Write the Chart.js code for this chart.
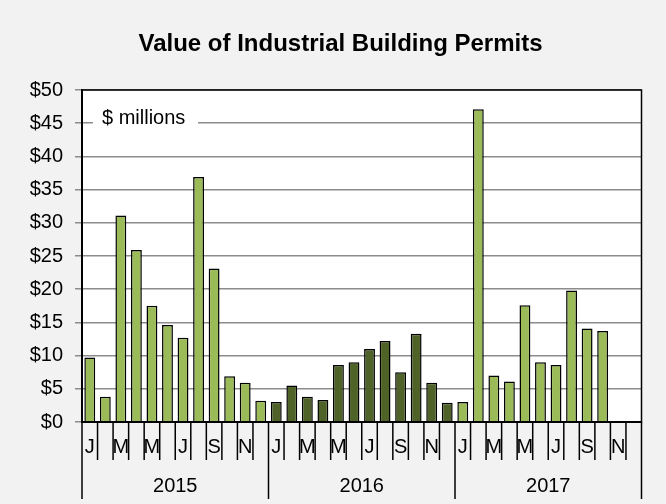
<!DOCTYPE html>
<html>
<head>
<meta charset="utf-8">
<script src="https://cdn.jsdelivr.net/npm/chart.js@4.4.1/dist/chart.umd.min.js"></script>
<style>
  html, body { margin: 0; padding: 0; background: #f2f2f2; }
  #permits { display: block; }
</style>
</head>
<body>
<canvas id="permits" width="666" height="504"></canvas>
<script>
// month letters, repeated for each year
var months = ['J','F','M','A','M','J','J','A','S','O','N','D'];
var years = ['2015', '2016', '2017'];
var chartTitle = 'Value of Industrial Building Permits';

// $ millions per month
var values2015 = [9.7, 3.8, 31.1, 25.9, 17.5, 14.6, 12.7, 36.9, 23.1, 6.9, 5.9, 3.2];
var values2016 = [3.0, 5.5, 3.8, 3.3, 8.6, 9.0, 11.0, 12.2, 7.5, 13.3, 5.9, 2.9];
var values2017 = [3.0, 47.1, 7.0, 6.1, 17.6, 9.0, 8.6, 19.8, 14.1, 13.7, null, null];

var yearColors = ['#9bbb59', '#4f6228', '#9bbb59'];

var labels = [];
var values = [];
var colors = [];
[values2015, values2016, values2017].forEach(function(arr, y) {
    arr.forEach(function(v, m) {
        labels.push(months[m]);
        values.push(v);
        colors.push(yearColors[y]);
    });
});

var FONT = "'Liberation Sans', Arial, sans-serif";

// title, white plot area, month/year separators, year labels, "$ millions" note
var decor = {
    id: 'decor',
    beforeDraw: function(chart) {
        var a = chart.chartArea, ctx = chart.ctx;
        ctx.save();
        ctx.fillStyle = '#ffffff';
        ctx.fillRect(a.left, a.top, a.right - a.left, a.bottom - a.top);
        ctx.fillStyle = '#000';
        ctx.font = 'bold 24px ' + FONT;
        ctx.textAlign = 'center';
        ctx.textBaseline = 'middle';
        ctx.fillText(chartTitle, 340.5, 44);
        ctx.restore();
    },
    afterDraw: function(chart) {
        var a = chart.chartArea, ctx = chart.ctx, x = chart.scales.x;
        var n = labels.length;
        var step = (x.getPixelForValue(1) - x.getPixelForValue(0));
        ctx.save();
        ctx.strokeStyle = '#000';
        ctx.lineWidth = 1.5;
        for (var i = 0; i <= n; i++) {
            var px = x.getPixelForValue(i) - step / 2;
            var bottom = (i % 12 === 0) ? 499 : 460;
            ctx.beginPath();
            ctx.moveTo(px, a.bottom);
            ctx.lineTo(px, bottom);
            ctx.stroke();
        }
        // year labels
        ctx.fillStyle = '#000';
        ctx.font = '20px ' + FONT;
        ctx.textAlign = 'center';
        ctx.textBaseline = 'middle';
        years.forEach(function(yr, k) {
            var cx = (x.getPixelForValue(k * 12) + x.getPixelForValue(k * 12 + 11)) / 2;
            ctx.fillText(yr, cx, 486);
        });
        // border of plot area
        ctx.strokeStyle = '#000';
        ctx.lineWidth = 1.5;
        ctx.strokeRect(a.left, a.top, a.right - a.left, a.bottom - a.top);
        // units note
        ctx.fillStyle = '#ffffff';
        ctx.fillRect(a.left + 11, a.top + 15, 105, 26);
        ctx.fillStyle = '#000';
        ctx.textAlign = 'left';
        ctx.fillText('$ millions', a.left + 20, a.top + 28);
        ctx.restore();
    }
};

var ctx = document.getElementById('permits').getContext('2d');
var permitsChart = new Chart(ctx, {
    type: 'bar',
    data: {
        labels: labels,
        datasets: [{
            data: values,
            backgroundColor: colors,
            borderColor: '#000',
            borderWidth: 1.5,
            categoryPercentage: 1,
            barPercentage: 0.7
        }]
    },
    options: {
        responsive: false,
        animation: false,
        layout: { padding: { left: 0, right: 24.5, top: 90, bottom: 0 } },
        plugins: {
            legend: { display: false },
            tooltip: { enabled: false },
            title: { display: false }
        },
        scales: {
            x: {
                grid: { display: false, drawTicks: false },
                border: { display: true, color: '#000', width: 2 },
                ticks: {
                    autoSkip: false,
                    maxRotation: 0,
                    padding: 13,
                    color: '#000',
                    font: { family: FONT, size: 20 },
                    callback: function(v, i) { return i % 2 === 0 ? labels[i] : ''; }
                },
                afterFit: function(scale) { scale.height = 82; }
            },
            y: {
                min: 0,
                max: 50,
                grid: { color: '#8c8c8c', lineWidth: 1.5, tickLength: 7, tickColor: '#8c8c8c' },
                border: { display: true, color: '#000', width: 2 },
                ticks: {
                    stepSize: 5,
                    padding: 12,
                    color: '#000',
                    font: { family: FONT, size: 20 },
                    callback: function(v) { return '$' + v; }
                },
                afterFit: function(scale) { scale.width = 82; }
            }
        }
    },
    plugins: [decor]
});
</script>
</body>
</html>
